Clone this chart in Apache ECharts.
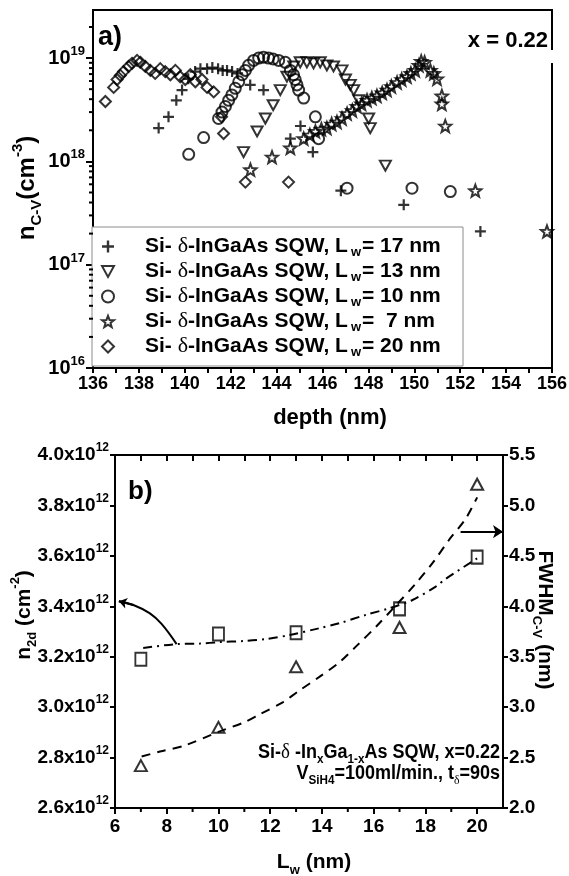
<!DOCTYPE html>
<html>
<head>
<meta charset="utf-8">
<script src="https://cdn.jsdelivr.net/npm/echarts@6/dist/echarts.min.js"></script>
<style>
  html, body { margin: 0; padding: 0; background: #fff; }
  #chart { width: 569px; height: 876px; }
</style>
</head>
<body>
<div id="chart"></div>
<script>
// ---------- panel a) C-V carrier profiles: [depth (nm), n (cm^-3)] ----------
const PROFILE_LW17 = [
  [138.86, 2.1e18], [139.29, 2.7e18], [139.63, 3.9e18], [139.88, 4.9e18], [140.15, 6.3e18],
  [140.45, 7.4e18], [140.68, 7.9e18], [140.97, 7.9e18], [141.2, 8.1e18], [141.45, 7.9e18],
  [141.65, 7.6e18], [141.84, 7.6e18], [142.06, 7.4e18], [142.3, 7.1e18], [142.85, 5.5e18],
  [143.43, 4.9e18], [144.6, 1.66e18], [145.04, 2.2e18], [145.58, 1.23e18], [146.8, 5.2e17],
  [149.54, 3.8e17], [152.88, 2.1e17]
];
const PROFILE_LW13 = [
  [142.56, 1.23e18], [143.15, 1.95e18], [143.51, 2.6e18], [143.85, 3.5e18], [144.16, 4.9e18],
  [144.45, 6.6e18], [144.75, 8.3e18], [145.03, 9.1e18], [145.32, 9.1e18], [145.61, 8.9e18],
  [145.9, 9.1e18], [146.19, 8.5e18], [146.48, 8.3e18], [146.85, 7.6e18], [147.0, 6.2e18],
  [147.21, 5.5e18], [147.36, 4.9e18], [147.58, 3.9e18], [148.01, 2.6e18], [148.08, 2.1e18],
  [148.74, 9.1e17]
];
const PROFILE_LW10 = [
  [140.17, 1.17e18], [140.82, 1.7e18], [141.47, 2.6e18], [141.62, 3.0e18], [141.77, 3.4e18],
  [141.91, 3.9e18], [142.05, 4.4e18], [142.2, 5.1e18], [142.35, 5.9e18], [142.5, 6.9e18],
  [142.64, 7.6e18], [142.78, 8.5e18], [143.0, 9.5e18], [143.22, 1.0e19], [143.43, 1.02e19],
  [143.65, 1.0e19], [143.85, 9.8e18], [144.09, 9.5e18], [144.38, 9.1e18], [144.6, 7.6e18],
  [144.74, 6.9e18], [144.81, 6.2e18], [144.89, 5.5e18], [144.96, 4.9e18], [145.18, 4.1e18],
  [145.69, 2.7e18], [145.83, 1.66e18], [147.07, 5.5e17], [149.9, 5.5e17], [151.57, 5.1e17]
];
const PROFILE_LW7 = [
  [142.86, 8.3e17], [143.8, 1.1e18], [144.6, 1.35e18], [145.18, 1.66e18], [145.45, 1.8e18],
  [145.69, 1.95e18], [145.95, 2.05e18], [146.19, 2.1e18], [146.4, 2.3e18], [146.63, 2.4e18],
  [146.85, 2.6e18], [147.07, 2.9e18], [147.3, 3.1e18], [147.5, 3.4e18], [147.7, 3.6e18],
  [147.94, 3.9e18], [148.15, 4.1e18], [148.37, 4.3e18], [148.6, 4.6e18], [148.81, 4.9e18],
  [149.0, 5.3e18], [149.25, 5.8e18], [149.45, 6.2e18], [149.68, 6.6e18], [149.85, 7.1e18],
  [150.04, 7.6e18], [150.2, 8.5e18], [150.3, 9.3e18], [150.45, 9.1e18], [150.7, 7.6e18],
  [150.85, 7.1e18], [150.99, 6.3e18], [151.2, 4.3e18], [151.2, 3.6e18], [151.35, 2.2e18],
  [152.66, 5.2e17], [155.78, 2.1e17]
];
const PROFILE_LW20 = [
  [136.54, 3.8e18], [136.9, 5.2e18], [137.05, 6.2e18], [137.19, 6.8e18], [137.33, 7.4e18],
  [137.55, 8.3e18], [137.7, 8.9e18], [137.92, 9.5e18], [138.06, 9.1e18], [138.28, 8.3e18],
  [138.5, 7.6e18], [138.71, 7.1e18], [138.93, 7.9e18], [139.15, 7.4e18], [139.37, 6.9e18],
  [139.59, 7.6e18], [139.8, 6.6e18], [140.02, 6.2e18], [140.24, 6.9e18], [140.46, 5.9e18],
  [140.75, 6.2e18], [140.97, 5.2e18], [141.26, 4.7e18], [141.6, 2.7e18], [141.69, 1.86e18],
  [142.64, 6.3e17], [144.52, 6.3e17]
];
const LEGEND_NAMES = [
  'Si- δ-InGaAs SQW, Lw= 17 nm',
  'Si- δ-InGaAs SQW, Lw= 13 nm',
  'Si- δ-InGaAs SQW, Lw= 10 nm',
  'Si- δ-InGaAs SQW, Lw=  7 nm',
  'Si- δ-InGaAs SQW, Lw= 20 nm'
];
const DEPTH_MIN = 136, DEPTH_MAX = 156, DEPTH_STEP = 2;
const DEPTH_TICKS = [136, 137, 138, 139, 140, 141, 142, 143, 144, 145, 146, 147, 148, 149, 150, 151, 152, 153, 154, 155, 156];
const N_MIN = 1e16, N_MAX = 2.92e19;
const N_DECADES = [16, 17, 18, 19];          // exponents labelled on the log axis
const N_MANTISSAS = [2, 3, 4, 5, 6, 7, 8, 9]; // minor log ticks inside each decade

// ---------- panel b) sheet density and profile width vs well width ----------
const WELL_WIDTH = [7, 10, 13, 17, 20];                       // L_w (nm)
const N2D = [3.19e12, 3.29e12, 3.295e12, 3.39e12, 3.595e12];   // cm^-2
const FWHM = [2.42, 2.80, 3.40, 3.79, 5.21];                   // nm
const N2D_GUIDE = [
  [7.09, 3.235e12], [8.38, 3.25e12], [9.28, 3.252e12], [10.05, 3.258e12], [10.95, 3.262e12],
  [11.85, 3.27e12], [12.75, 3.286e12], [13.9, 3.313e12], [14.68, 3.333e12], [15.7, 3.366e12],
  [16.6, 3.392e12], [17.5, 3.425e12], [18.4, 3.478e12], [18.8, 3.51e12], [20.0, 3.59e12]
];
const FWHM_GUIDE = [
  [7.03, 2.51], [7.74, 2.56], [8.7, 2.62], [10.05, 2.76], [11.0, 2.85], [11.6, 2.93],
  [12.5, 3.05], [13.1, 3.16], [13.9, 3.30], [14.7, 3.45], [15.35, 3.61], [16.1, 3.80],
  [16.9, 4.02], [17.64, 4.23], [18.28, 4.43], [18.92, 4.66], [19.56, 4.87], [20.0, 5.08]
];
const N2D_POINTER = [[8.38, 3.25e12], [7.8, 3.33e12], [7.35, 3.372e12], [6.71, 3.405e12], [6.15, 3.42e12]];
const FWHM_POINTER = [[19.36, 4.74], [21, 4.74]];
const LW_MIN = 6, LW_MAX = 21;
const LW_MAJOR = [6, 8, 10, 12, 14, 16, 18, 20];
const LW_MINOR = [7, 9, 11, 13, 15, 17, 19];
const LW_TOP_TICKS = [7, 8, 9, 10, 11, 12, 13, 14, 15, 16, 17, 18, 19, 20];
const N2D_MIN = 2.6e12, N2D_MAX = 4.0e12, N2D_STEP = 0.2e12;
const FWHM_MIN = 2.0, FWHM_MAX = 5.5, FWHM_STEP = 0.5;

// ---------- drawing ----------
const FONT = '"Liberation Sans", Arial, Helvetica, sans-serif';
const SERIF = '"Liberation Serif", "DejaVu Serif", serif';
const K = '#000';

const lg = Math.log10;
const toLog = arr => arr.map(p => [p[0], lg(p[1])]);
// 2..9 steps inside each decade of the log10 axis
const minorLog = [];
N_DECADES.forEach(d => N_MANTISSAS.forEach(m => {
  const v = d + lg(m);
  if (v < lg(N_MAX)) minorLog.push(v);
}));

const hollow = { color: 'rgba(0,0,0,0)', borderColor: K, borderWidth: 2 };
const PLUS = 'path://M4,0H6V4H10V6H6V10H4V6H0V4H4Z';
const STAR = 'path://M10,0L12.47,6.6L19.51,6.91L13.99,11.3L15.88,18.09L10,14.2L4.12,18.09L6.01,11.3L0.49,6.91L7.53,6.6Z';
const TRI_DOWN = 'path://M0,0L12,0L6,11Z';

const boldTxt = (size, extra) => Object.assign({ fontSize: size, fontWeight: 'bold', fontFamily: FONT, color: K, fill: K }, extra || {});

function txt(x, y, text, size, opts) {
  opts = opts || {};
  return {
    type: 'text', x: x, y: y, z: 50,
    rotation: opts.rotation || 0,
    scaleX: opts.scaleX || 1,
    style: {
      text: text, fontSize: size, fontWeight: 'bold', fontFamily: FONT, fill: K,
      align: opts.align || 'center', verticalAlign: 'middle', lineHeight: opts.lineHeight || size + 8,
      rich: opts.rich || {}
    }
  };
}

// short minor tick marks hung off an axis; dx/dy give the tick direction in pixels
function tickMarks(xIdx, yIdx, points, dx, dy) {
  return {
    type: 'custom', coordinateSystem: 'cartesian2d', xAxisIndex: xIdx, yAxisIndex: yIdx,
    silent: true, clip: false, z: 10,
    data: points,
    renderItem: function (params, api) {
      const p = api.coord([api.value(0), api.value(1)]);
      return {
        type: 'line',
        shape: { x1: p[0], y1: p[1], x2: p[0] + dx, y2: p[1] + dy },
        style: { stroke: K, lineWidth: 2 }
      };
    }
  };
}

const axisLineStyle = { show: true, lineStyle: { color: K, width: 2 } };
const tickStyle = (len, extra) => Object.assign({ show: true, length: len, lineStyle: { color: K, width: 2 } }, extra || {});
const arrowLine = (yIdx, coords, size) => ({
  type: 'lines', coordinateSystem: 'cartesian2d', xAxisIndex: 1, yAxisIndex: yIdx,
  polyline: false, clip: false, symbol: ['none', 'arrow'], symbolSize: size,
  lineStyle: { color: K, width: 2, opacity: 1, curveness: 0 },
  itemStyle: { color: K },
  data: [{ coords: coords }]
});

const option = {
  animation: false,
  backgroundColor: '#fff',
  grid: [
    { left: 93, top: 10, width: 459, height: 358, show: true, borderColor: K, borderWidth: 2, backgroundColor: 'rgba(0,0,0,0)', outerBoundsMode: 'none' },
    { left: 115, top: 455, width: 388, height: 353, show: true, borderColor: K, borderWidth: 2, backgroundColor: 'rgba(0,0,0,0)', outerBoundsMode: 'none' }
  ],
  xAxis: [
    {
      gridIndex: 0, type: 'value', position: 'bottom', min: DEPTH_MIN, max: DEPTH_MAX, interval: DEPTH_STEP,
      axisLine: axisLineStyle, splitLine: { show: false },
      axisTick: tickStyle(5, { customValues: DEPTH_TICKS }),
      axisLabel: boldTxt(18, { margin: 7 })
    },
    {
      gridIndex: 1, type: 'value', position: 'bottom', min: LW_MIN, max: LW_MAX, interval: 2,
      axisLine: axisLineStyle, splitLine: { show: false },
      axisTick: tickStyle(6, { customValues: LW_MAJOR }),
      axisLabel: boldTxt(19, { margin: 9, customValues: LW_MAJOR })
    },
    {
      gridIndex: 1, type: 'value', position: 'top', min: LW_MIN, max: LW_MAX,
      axisLine: axisLineStyle, splitLine: { show: false },
      axisTick: tickStyle(6, { inside: true, customValues: LW_TOP_TICKS }),
      axisLabel: { show: false }
    }
  ],
  yAxis: [
    {
      gridIndex: 0, type: 'value', position: 'left', min: lg(N_MIN), max: lg(N_MAX),
      axisLine: axisLineStyle, splitLine: { show: false },
      axisTick: tickStyle(7, { customValues: N_DECADES }),
      axisLabel: {
        customValues: N_DECADES, margin: 8,
        formatter: v => '{b|10}{s|' + Math.round(v) + '}',
        rich: {
          b: boldTxt(20, { lineHeight: 26 }),
          s: boldTxt(13, { verticalAlign: 'top' })
        }
      }
    },
    {
      gridIndex: 1, type: 'value', position: 'left', min: N2D_MIN, max: N2D_MAX, interval: N2D_STEP,
      axisLine: axisLineStyle, splitLine: { show: false },
      axisTick: tickStyle(5),
      axisLabel: {
        margin: 6,
        formatter: v => '{b|' + (v / 1e12).toFixed(1) + 'x10}{s|12}',
        rich: {
          b: boldTxt(19, { lineHeight: 26 }),
          s: boldTxt(12, { verticalAlign: 'top' })
        }
      }
    },
    {
      gridIndex: 1, type: 'value', position: 'right', min: FWHM_MIN, max: FWHM_MAX, interval: FWHM_STEP,
      axisLine: axisLineStyle, splitLine: { show: false },
      axisTick: tickStyle(5),
      axisLabel: boldTxt(19, { margin: 6, formatter: v => v.toFixed(1) })
    }
  ],
  legend: {
    data: LEGEND_NAMES,
    orient: 'vertical', left: 92, top: 227,
    padding: [7, 0, 7, 9],
    itemWidth: 12, itemHeight: 12, itemGap: 0,
    backgroundColor: '#fff', borderColor: '#8c8c8c', borderWidth: 1, borderRadius: 0,
    selectedMode: false,
    formatter: name => name.replace('δ', '{d|δ}').replace('Lw', 'L{w|w}'),
    textStyle: {
      fontSize: 21, fontWeight: 'bold', fontFamily: FONT, color: K,
      lineHeight: 25, width: 318, padding: [0, 0, 0, 26],
      rich: {
        d: { fontSize: 22, fontWeight: 'normal', fontFamily: SERIF, color: K, lineHeight: 25 },
        w: { fontSize: 13, fontWeight: 'bold', fontFamily: FONT, color: K, verticalAlign: 'bottom', padding: [0, 1, 0, 3] }
      }
    }
  },
  series: [
    { name: LEGEND_NAMES[0], type: 'scatter', xAxisIndex: 0, yAxisIndex: 0, data: toLog(PROFILE_LW17),
      symbol: PLUS, symbolSize: 11, itemStyle: { color: K } },
    { name: LEGEND_NAMES[1], type: 'scatter', xAxisIndex: 0, yAxisIndex: 0, data: toLog(PROFILE_LW13),
      symbol: TRI_DOWN, symbolSize: [11, 10], itemStyle: hollow },
    { name: LEGEND_NAMES[2], type: 'scatter', xAxisIndex: 0, yAxisIndex: 0, data: toLog(PROFILE_LW10),
      symbol: 'circle', symbolSize: 11, itemStyle: hollow },
    { name: LEGEND_NAMES[3], type: 'scatter', xAxisIndex: 0, yAxisIndex: 0, data: toLog(PROFILE_LW7),
      symbol: STAR, symbolSize: 12, itemStyle: hollow },
    { name: LEGEND_NAMES[4], type: 'scatter', xAxisIndex: 0, yAxisIndex: 0, data: toLog(PROFILE_LW20),
      symbol: 'diamond', symbolSize: 11, itemStyle: hollow },

    // minor ticks: log steps on the n axis, odd widths on the L_w axis
    tickMarks(0, 0, minorLog.map(v => [DEPTH_MIN, v]), -4, 0),
    tickMarks(1, 1, LW_MINOR.map(v => [v, N2D_MIN]), 0, 4),

    { type: 'line', xAxisIndex: 1, yAxisIndex: 1, data: N2D_GUIDE, smooth: 0.3, symbol: 'none',
      lineStyle: { color: K, width: 2, type: [9, 5, 2, 5] } },
    { type: 'line', xAxisIndex: 1, yAxisIndex: 2, data: FWHM_GUIDE, smooth: 0.3, symbol: 'none',
      lineStyle: { color: K, width: 2, type: [9, 7] } },
    { type: 'scatter', xAxisIndex: 1, yAxisIndex: 1, data: WELL_WIDTH.map((w, i) => [w, N2D[i]]),
      symbol: 'rect', symbolSize: [11, 13], itemStyle: hollow },
    { type: 'scatter', xAxisIndex: 1, yAxisIndex: 2, data: WELL_WIDTH.map((w, i) => [w, FWHM[i]]),
      symbol: 'triangle', symbolSize: [12, 11], itemStyle: hollow },

    // pointers from each guide curve to its axis
    { type: 'line', xAxisIndex: 1, yAxisIndex: 1, data: N2D_POINTER, smooth: 0.4, symbol: 'none',
      lineStyle: { color: K, width: 2 } },
    arrowLine(1, N2D_POINTER.slice(-2), 8),
    arrowLine(2, FWHM_POINTER, 10)
  ],
  graphic: [
    // gap in the right frame below the composition label
    { type: 'rect', z: 60, shape: { x: 549, y: 50, width: 7, height: 13 }, style: { fill: '#fff' } },
    txt(98, 38, 'a)', 27, { align: 'left' }),
    txt(548, 41, 'x = 0.22', 22, { align: 'right' }),
    txt(27, 188, 'n{u|C-V}(cm{s|-3})', 24, {
      rotation: Math.PI / 2, lineHeight: 34,
      rich: { u: boldTxt(15, { verticalAlign: 'bottom' }), s: boldTxt(15, { verticalAlign: 'top' }) }
    }),
    txt(330, 418, 'depth (nm)', 22),
    txt(128, 492, 'b)', 26, { align: 'left' }),
    txt(500, 752, 'Si-{d|δ} -In{u|x}Ga{u|1-x}As SQW, x=0.22', 20, {
      align: 'right', scaleX: 0.9, lineHeight: 28,
      rich: { d: { fontSize: 21, fontFamily: SERIF, fontWeight: 'normal', fill: K }, u: boldTxt(13, { verticalAlign: 'bottom' }) }
    }),
    txt(500, 773, 'V{u|SiH4}=100ml/min., t{v|δ}=90s', 20, {
      align: 'right', scaleX: 0.9, lineHeight: 28,
      rich: { u: boldTxt(13, { verticalAlign: 'bottom' }), v: { fontSize: 13, fontFamily: SERIF, fill: K, verticalAlign: 'bottom' } }
    }),
    txt(24, 615, 'n{u|2d} (cm{s|-2})', 21, {
      rotation: Math.PI / 2, lineHeight: 30,
      rich: { u: boldTxt(13, { verticalAlign: 'bottom' }), s: boldTxt(13, { verticalAlign: 'top' }) }
    }),
    txt(545, 620, 'FWHM{u|C-V} (nm)', 21, {
      rotation: -Math.PI / 2, lineHeight: 30,
      rich: { u: boldTxt(13, { verticalAlign: 'bottom' }) }
    }),
    txt(314, 862, 'L{u|w} (nm)', 21, {
      lineHeight: 30, rich: { u: boldTxt(13, { verticalAlign: 'bottom' }) }
    })
  ]
};

const chart = echarts.init(document.getElementById('chart'), null, { renderer: 'canvas' });
chart.setOption(option);
</script>
</body>
</html>
